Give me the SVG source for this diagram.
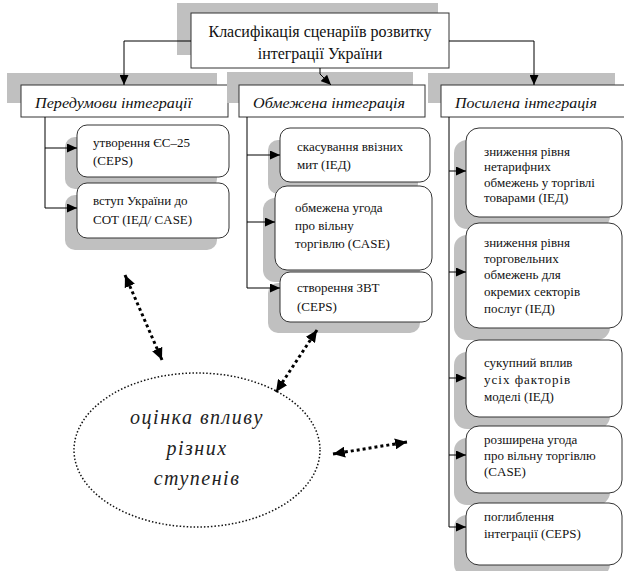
<svg xmlns="http://www.w3.org/2000/svg" width="624" height="571" viewBox="0 0 624 571">
<style>
.sh{fill:#c0c0c0}
.bx{fill:#fff;stroke:#333;stroke-width:1}
text{font-family:"Liberation Serif","DejaVu Serif","Times New Roman",serif}
.t{font-size:13px;fill:#111}
.tt{font-size:16px;fill:#111}
.it{font-style:italic;font-size:15px;fill:#111}
.el{font-style:italic;font-size:20px;fill:#222;letter-spacing:1.5px}
.ln{fill:none;stroke:#000;stroke-width:1}
.dl{fill:none;stroke:#000;stroke-width:3;stroke-dasharray:3 3}
</style>
<defs>
<marker id="ah" markerUnits="userSpaceOnUse" markerWidth="10" markerHeight="9" refX="10" refY="4.5" orient="auto"><path d="M0,0 L10,4.5 L0,9 z" fill="#000"/></marker>
<marker id="dh" markerUnits="userSpaceOnUse" markerWidth="12" markerHeight="11" refX="12" refY="5.5" orient="auto-start-reverse"><path d="M0,0 L12,5.5 L0,11 z" fill="#000"/></marker>
</defs>
<rect width="624" height="571" fill="#fff"/>

<g id="title">
<rect class="sh" x="177" y="3" width="261" height="52"/>
<rect class="bx" x="191" y="13" width="258" height="55"/>
<text class="tt" x="320" y="37" text-anchor="middle">Класифікація сценаріїв розвитку</text>
<text class="tt" x="320" y="59" text-anchor="middle">інтеграції України</text>
</g>

<g id="cat-left">
<rect class="sh" x="7" y="73" width="210" height="30"/>
<rect class="bx" x="21" y="85" width="207" height="32"/>
<text class="it" x="35" y="108" textLength="157" lengthAdjust="spacingAndGlyphs">Передумови інтеграції</text>
</g>
<g id="cat-mid">
<rect class="sh" x="227" y="72" width="186" height="31"/>
<rect class="bx" x="239" y="85" width="186" height="32"/>
<text class="it" x="253" y="108" textLength="152" lengthAdjust="spacingAndGlyphs">Обмежена інтеграція</text>
</g>
<g id="cat-right">
<rect class="sh" x="428" y="73" width="187" height="30"/>
<rect class="bx" x="441" y="85" width="190" height="32"/>
<text class="it" x="455" y="108" textLength="142" lengthAdjust="spacingAndGlyphs">Посилена інтеграція</text>
</g>

<g id="l1">
<rect class="sh" x="65" y="137" width="152" height="52" rx="10"/>
<rect class="bx" x="77" y="125" width="152" height="52" rx="10"/>
<text class="t" x="93" y="147">утворення ЄС–25</text>
<text class="t" x="93" y="165">(CEPS)</text>
</g>
<g id="l2">
<rect class="sh" x="65" y="195" width="152" height="55" rx="10"/>
<rect class="bx" x="77" y="183" width="152" height="55" rx="10"/>
<text class="t" x="93" y="205">вступ України до</text>
<text class="t" x="93" y="224">СОТ (ІЕД/ CASE)</text>
</g>

<g id="m1">
<rect class="sh" x="268" y="140" width="150" height="54" rx="10"/>
<rect class="bx" x="280" y="128" width="150" height="54" rx="10"/>
<text class="t" x="297" y="151">скасування ввізних</text>
<text class="t" x="297" y="169">мит (ІЕД)</text>
</g>
<g id="m2">
<rect class="sh" x="263" y="198" width="157" height="84" rx="12"/>
<rect class="bx" x="275" y="186" width="157" height="84" rx="12"/>
<text class="t" x="295" y="212">обмежена угода</text>
<text class="t" x="295" y="230">про вільну</text>
<text class="t" x="295" y="248">торгівлю (CASE)</text>
</g>
<g id="m3">
<rect class="sh" x="268" y="283" width="152" height="50" rx="10"/>
<rect class="bx" x="280" y="272" width="152" height="50" rx="10"/>
<text class="t" x="297" y="292">створення ЗВТ</text>
<text class="t" x="297" y="311">(CEPS)</text>
</g>

<g id="r1">
<rect class="sh" x="454" y="140" width="156" height="89" rx="13"/>
<rect class="bx" x="466" y="128" width="156" height="89" rx="13"/>
<text class="t" x="484" y="156">зниження рівня</text>
<text class="t" x="484" y="171">нетарифних</text>
<text class="t" x="484" y="187">обмежень у торгівлі</text>
<text class="t" x="484" y="202">товарами (ІЕД)</text>
</g>
<g id="r2">
<rect class="sh" x="454" y="235" width="156" height="105" rx="13"/>
<rect class="bx" x="466" y="223" width="156" height="105" rx="13"/>
<text class="t" x="484" y="247">зниження рівня</text>
<text class="t" x="484" y="263">торговельних</text>
<text class="t" x="484" y="279">обмежень для</text>
<text class="t" x="484" y="296">окремих секторів</text>
<text class="t" x="484" y="313">послуг (ІЕД)</text>
</g>
<g id="r3">
<rect class="sh" x="454" y="352" width="156" height="77" rx="13"/>
<rect class="bx" x="466" y="340" width="156" height="77" rx="13"/>
<text class="t" x="484" y="367">сукупний вплив</text>
<text class="t" x="484" y="384" letter-spacing="1">усіх  факторів</text>
<text class="t" x="484" y="401">моделі (ІЕД)</text>
</g>
<g id="r4">
<rect class="sh" x="454" y="438" width="156" height="67" rx="13"/>
<rect class="bx" x="466" y="426" width="156" height="67" rx="13"/>
<text class="t" x="484" y="444">розширена угода</text>
<text class="t" x="484" y="460">про вільну торгівлю</text>
<text class="t" x="484" y="476">(CASE)</text>
</g>
<g id="r5">
<rect class="sh" x="454" y="515" width="156" height="62" rx="13"/>
<rect class="bx" x="466" y="503" width="156" height="62" rx="13"/>
<text class="t" x="484" y="521">поглиблення</text>
<text class="t" x="484" y="538">інтеграції (CEPS)</text>
</g>

<g id="assessment">
<ellipse cx="197" cy="450" rx="123" ry="77" fill="none" stroke="#111" stroke-width="1.5" stroke-dasharray="1.5 2"/>
<text class="el" x="197" y="424" text-anchor="middle">оцінка впливу</text>
<text class="el" x="197" y="455" text-anchor="middle">різних</text>
<text class="el" x="197" y="485" text-anchor="middle">ступенів</text>
</g>

<g id="connectors">
<path class="ln" d="M191,41 H124 V85" marker-end="url(#ah)"/>
<path class="ln" d="M449,41 H534 V85" marker-end="url(#ah)"/>
<path class="ln" d="M320,68 V74 L331,85" marker-end="url(#ah)"/>
<path class="ln" d="M45,117 V208"/>
<path class="ln" d="M45,148 H77" marker-end="url(#ah)"/>
<path class="ln" d="M45,208 H77" marker-end="url(#ah)"/>
<path class="ln" d="M247,117 V288"/>
<path class="ln" d="M247,155 H280" marker-end="url(#ah)"/>
<path class="ln" d="M247,222 H275" marker-end="url(#ah)"/>
<path class="ln" d="M247,288 H280" marker-end="url(#ah)"/>
<path class="ln" d="M449,117 V527"/>
<path class="ln" d="M449,171 H466" marker-end="url(#ah)"/>
<path class="ln" d="M449,272 H466" marker-end="url(#ah)"/>
<path class="ln" d="M449,378 H466" marker-end="url(#ah)"/>
<path class="ln" d="M449,455 H466" marker-end="url(#ah)"/>
<path class="ln" d="M449,527 H466" marker-end="url(#ah)"/>
<path class="dl" d="M125,275 L162,360" marker-start="url(#dh)" marker-end="url(#dh)"/>
<path class="dl" d="M317,330 L276,392" marker-start="url(#dh)" marker-end="url(#dh)"/>
<path class="dl" d="M333,454 L407,442" marker-start="url(#dh)" marker-end="url(#dh)"/>
</g>
</svg>
